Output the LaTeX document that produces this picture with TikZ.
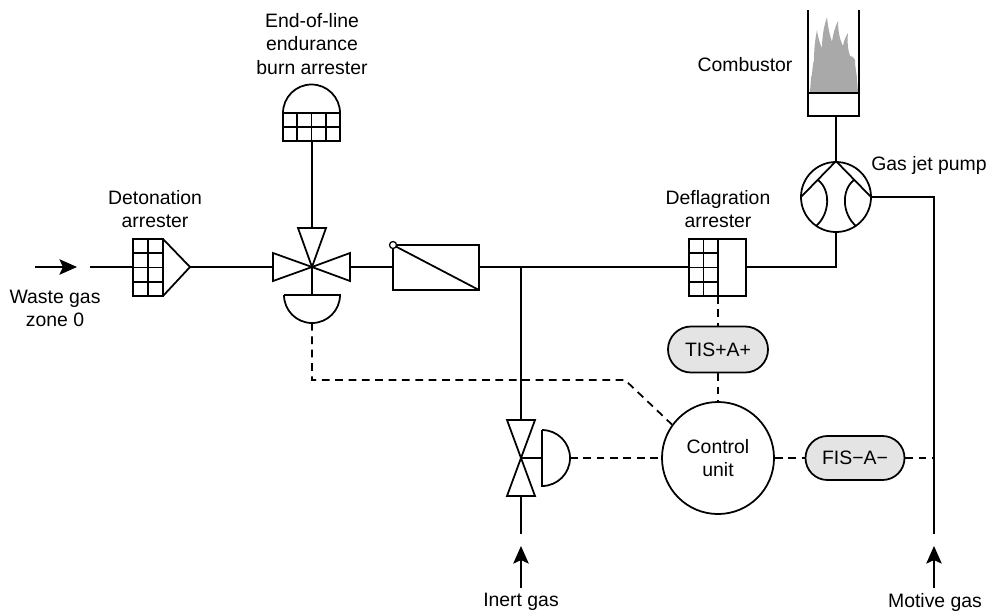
\documentclass[tikz,border=0pt]{standalone}
\usepackage{fontspec}
\setmainfont{Liberation Sans}
\usetikzlibrary{shapes.misc, arrows.meta}

\definecolor{flamegray}{HTML}{A9A9A9}
\definecolor{pillgray}{HTML}{E4E4E4}

\begin{document}
\begin{tikzpicture}[x=0.025cm, y=-0.025cm,
  line width=1.25pt,
  lbl/.style={font=\fontsize{13.8}{16.4}\selectfont, align=center, inner sep=0pt},
  pipe/.style={line width=1.25pt},
  signal/.style={line width=1.25pt, dash pattern=on 5.5pt off 4pt},
  sym/.style={line width=1.25pt, line join=miter},
  flow/.style={line width=1.25pt, -{Stealth[length=12.5pt, width=11pt, inset=2.5pt]}},
  pill/.style={rounded rectangle, draw, line width=1.25pt, fill=pillgray,
    minimum height=1.15cm, minimum width=2.5cm, inner sep=0pt,
    font=\fontsize{13.8}{16.4}\selectfont},
  ctrl/.style={circle, draw, line width=1.25pt, minimum size=2.8cm, inner sep=0pt,
    align=center, font=\fontsize{13.8}{16.4}\selectfont},
  pumpc/.style={circle, draw, line width=1.25pt, minimum size=1.75cm, inner sep=0pt}
]
\useasboundingbox (0,0) rectangle (992,613);

% ---------- labels ----------
\node[lbl] (lwaste) at (55,308) {Waste gas\\zone 0};
\node[lbl] (ldet) at (155,209) {Detonation\\arrester};
\node[lbl] (leol) at (312,44) {End-of-line\\endurance\\burn arrester};
\node[lbl] (lcomb) at (745,65) {Combustor};
\node[lbl] (lpump) at (929,165) {Gas jet pump};
\node[lbl] (ldefl) at (718,209) {Deflagration\\arrester};
\node[lbl] (linert) at (521,602) {Inert gas};
\node[lbl] (lmotive) at (935,602) {Motive gas};

% ---------- ports ----------
\coordinate (wgA) at (35,267);
\coordinate (wgB) at (77,267);
\coordinate (inlet) at (90,267);
\coordinate (detL) at (133,267);
\coordinate (detR) at (190,267);
\coordinate (vC) at (312,267);
\coordinate (vL) at (273,267);
\coordinate (vR) at (350,267);
\coordinate (vT) at (312,228);
\coordinate (vS) at (312,295);
\coordinate (vAct) at (312,323);
\coordinate (eolB) at (312,141);
\coordinate (boxL) at (393,267);
\coordinate (boxR) at (479,267);
\coordinate (tee) at (521,267);
\coordinate (defL) at (689,267);
\coordinate (defR) at (746,267);
\coordinate (defG) at (718,296);
\coordinate (ivT) at (521,420);
\coordinate (ivC) at (521,458);
\coordinate (ivB) at (521,496);
\coordinate (ivS) at (542,458);
\coordinate (ivAct) at (570,458);
\coordinate (igEnd) at (521,534);
\coordinate (igA) at (521,588);
\coordinate (igB) at (521,546);
\coordinate (mgEnd) at (934,534);
\coordinate (mgTap) at (934,458);
\coordinate (mgA) at (934,588);
\coordinate (mgB) at (934,546);
\coordinate (cbB) at (836,116);
\coordinate (bend) at (625,380);

% ---------- instruments ----------
\node[pumpc] (pump) at (836,197) {};
\node[ctrl] (cu) at (718,458) {Control\\unit};
\node[pill] (tis) at (718,349.5) {TIS+A+};
\node[pill, minimum height=1.1cm, minimum width=2.475cm] (fis) at (855,458) {FIS\textminus A\textminus};

% ---------- detonation arrester ----------
\draw[sym] (133,239) rectangle (163,296);
\draw[sym] (148,239) -- (148,296);
\foreach \yy in {253.25,267.5,281.75} \draw[sym] (133,\yy) -- (163,\yy);
\draw[sym] (163,239) -- (detR) -- (163,296);

% ---------- three-way valve with actuator ----------
\draw[sym] (vC) -- (273,253) -- (273,281) -- cycle;
\draw[sym] (vC) -- (350,253) -- (350,281) -- cycle;
\draw[sym] (vC) -- (298,228) -- (326,228) -- cycle;
\draw[sym] (vC) -- (vS);
\draw[sym] (284,295) -- (340,295) arc[start angle=0, end angle=180, radius=28];

% ---------- end-of-line arrester ----------
\draw[sym] (283,113) rectangle (340,141);
\foreach \xx in {297.25,311.5,325.75} \draw[sym] (\xx,113) -- (\xx,141);
\draw[sym] (283,127) -- (340,127);
\draw[sym] (283,113) arc[start angle=180, end angle=360, radius=28.5];

% ---------- box with diagonal ----------
\draw[sym] (393,245) rectangle (479,290);
\draw[sym] (393,245) -- (479,290);
\draw[line width=0.9pt, fill=white] (393,245) circle[radius=3.5];

% ---------- deflagration arrester ----------
\draw[sym] (689,239) rectangle (746,296);
\draw[sym] (703.5,239) -- (703.5,296);
\draw[sym] (718,239) -- (718,296);
\foreach \yy in {253.25,267.5,281.75} \draw[sym] (689,\yy) -- (718,\yy);

% ---------- inert gas valve with actuator ----------
\draw[sym] (ivC) -- (507,420) -- (535,420) -- cycle;
\draw[sym] (ivC) -- (507,496) -- (535,496) -- cycle;
\draw[sym] (ivC) -- (ivS);
\draw[sym] (542,430) -- (542,486) arc[start angle=90, end angle=-90, radius=28];

% ---------- combustor ----------
\fill[flamegray] (810,92) -- (811,78)
  .. controls (813,72) and (812,66) .. (814,60)
  .. controls (814,50) and (815,40) .. (817,30)
  .. controls (818,38) and (820,44) .. (822,48)
  .. controls (822,36) and (824,26) .. (827,17)
  .. controls (828,28) and (830,36) .. (832,42)
  .. controls (833,34) and (835,27) .. (838,21)
  .. controls (838,32) and (840,40) .. (843,46)
  .. controls (844,40) and (846,36) .. (848,33)
  .. controls (847,42) and (848,50) .. (850,56)
  .. controls (852,56) and (854,57) .. (855,60)
  .. controls (855,68) and (857,74) .. (857,80)
  -- (858,92) -- cycle;
\draw[sym] (808,10) -- (808,116) -- (859,116) -- (859,10);
\draw[sym] (808,93) -- (859,93);

% ---------- gas jet pump internals ----------
\draw[sym] (801,197) -- (pump.north) -- (871,197);
\draw[sym] (818,180) .. controls (831,190) and (830,214) .. (816,226);
\draw[sym] (854,180) .. controls (841,190) and (842,214) .. (856,226);

% ---------- process lines ----------
\draw[flow] (wgA) -- (wgB);
\draw[pipe] (inlet) -- (detL);
\draw[pipe] (detR) -- (vL);
\draw[pipe] (eolB) -- (vT);
\draw[pipe] (vR) -- (boxL);
\draw[pipe] (boxR) -- (defL);
\draw[pipe] (tee) -- (ivT);
\draw[pipe] (ivB) -- (igEnd);
\draw[flow] (igA) -- (igB);
\draw[pipe] (defR) -| (pump.south);
\draw[pipe] (cbB) -- (pump.north);
\draw[pipe] (pump.east) -| (mgEnd);
\draw[flow] (mgA) -- (mgB);

% ---------- signal lines ----------
\draw[signal] (vAct) |- (bend) -- (cu.144);
\draw[signal] (defG) -- (tis.north);
\draw[signal] (tis.south) -- (cu.north);
\draw[signal] (ivAct) -- (cu.west);
\draw[signal] (cu.east) -- (fis.west);
\draw[signal] (fis.east) -- (mgTap);
\end{tikzpicture}
\end{document}
